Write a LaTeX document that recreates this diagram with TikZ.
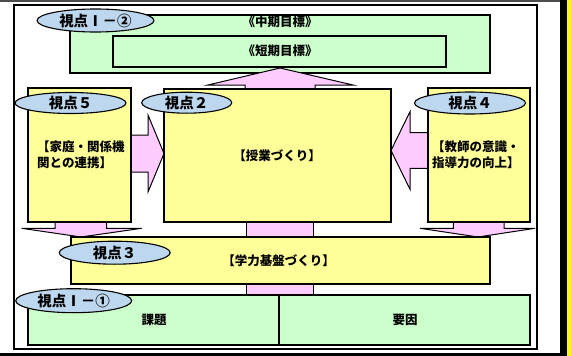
\documentclass[tikz,border=0pt]{standalone}
\usepackage{fontspec}
\newfontfamily\jp{Noto Sans CJK JP}
\usetikzlibrary{shapes.geometric}
\definecolor{gfill}{HTML}{CCFFCC}
\definecolor{yfill}{HTML}{FFFF99}
\definecolor{pfill}{HTML}{FFCCFF}
\definecolor{bfill}{HTML}{BDD7EE}
\tikzset{
  box/.style={draw=black, line width=1.1pt, inner sep=0pt},
  greenbox/.style={box, fill=gfill},
  yellowbox/.style={box, fill=yfill},
  tag/.style={ellipse, draw=black, line width=1.1pt, fill=bfill, inner sep=0pt, font=\jp\bfseries\fontsize{14.5}{14.5}\selectfont},
  txt/.style={font=\jp\bfseries\fontsize{12.5}{16}\selectfont, inner sep=0pt},
  parrow/.style={fill=pfill, draw=black, line width=1pt, line join=miter},
}
\begin{document}
\begin{tikzpicture}[x=1pt,y=-1pt]
\useasboundingbox (0,0) rectangle (571,356);
% screen surroundings
\fill[white] (0,0) rectangle (571,356);
\fill[black!70] (0,0) rectangle (560,2);
\fill[black] (0,353) rectangle (571,356);
\fill[black] (560,0) rectangle (567,356);
\fill[yellow!90!white] (567,0) rectangle (571,356);
% frame
\node[draw=black, line width=2pt, minimum width=523pt, minimum height=343.5pt, inner sep=0pt] (frame) at (275,176.75) {};
% goal boxes
\node[greenbox, minimum width=420pt, minimum height=58pt] (mid) at (280,44) {};
\node[greenbox, line width=1.6pt, minimum width=333pt, minimum height=31pt] (short) at (279.5,51.5) {};
\node[txt] (midt) at (280,22) {《中期目標》};
\node[txt] (shortt) at (280,50.5) {《短期目標》};
% up arrow
\draw[parrow] (245,90) -- (245,85) -- (208,85) -- (280,68) -- (353,85) -- (315,85) -- (315,90);
% side arrows
\draw[parrow] (130,135) -- (148,135) -- (148,115) -- (164,153.5) -- (148,192) -- (148,172) -- (130,172);
\draw[parrow] (429,132.7) -- (410,132.7) -- (410,111.7) -- (391,150.5) -- (410,189.3) -- (410,168.3) -- (429,168.3);
% down arrows
\draw[parrow] (55,221) -- (55,228.3) -- (21.7,228.3) -- (81,237) -- (141.7,228.3) -- (106.7,228.3) -- (106.7,221);
\draw[parrow] (453.3,221) -- (453.3,228.3) -- (420,228.3) -- (478,237) -- (535,228.3) -- (504,228.3) -- (504,221);
% vertical pink links
\fill[pfill] (246.7,221) rectangle (313.3,238);
\draw[line width=1pt] (246.7,221) -- (246.7,238) (313.3,221) -- (313.3,238);
\fill[pfill] (246.7,283) rectangle (313.3,296);
\draw[line width=1pt] (246.7,283) -- (246.7,296) (313.3,283) -- (313.3,296);
% yellow boxes
\node[yellowbox, minimum width=227pt, minimum height=133pt] (lesson) at (277.5,155.5) {};
\node[yellowbox, minimum width=103pt, minimum height=134pt] (family) at (79.5,155) {};
\node[yellowbox, minimum width=102pt, minimum height=134pt] (teacher) at (479,155) {};
\node[yellowbox, minimum width=419pt, minimum height=47pt] (base) at (280.5,260.5) {};
% bottom boxes
\node[greenbox, minimum width=251pt, minimum height=50pt] (kadai) at (153.5,320) {};
\node[greenbox, minimum width=251pt, minimum height=50pt] (youin) at (404.5,320) {};
% texts
\node[txt] (lessont) at (277,155.5) {【授業づくり】};
\node[txt] (baset) at (278.5,260.5) {【学力基盤づくり】};
\node[txt, align=left, anchor=west] (familyt) at (37,154.7) {【家庭・関係機\\関との連携】};
\node[txt, align=left, anchor=west] (teachert) at (432,154.7) {【教師の意識・\\指導力の向上】};
\node[txt] (kadait) at (154,320) {課題};
\node[txt] (youint) at (405,320) {要因};
% tags
\node[tag, minimum width=117pt, minimum height=23pt] (e12) at (95.5,20.5) {視点Ⅰ－②};
\node[tag, minimum width=90pt, minimum height=21pt] (e2) at (186.7,102.7) {視点２};
\node[tag, minimum width=111pt, minimum height=21pt] (e5) at (70.5,103) {視点５};
\node[tag, minimum width=111pt, minimum height=22pt] (e4) at (470,103) {視点４};
\node[tag, minimum width=111pt, minimum height=23pt] (e3) at (114.7,252.7) {視点３};
\node[tag, minimum width=116pt, minimum height=24pt] (e11) at (73.7,300.7) {視点Ⅰ－①};
\end{tikzpicture}
\end{document}
